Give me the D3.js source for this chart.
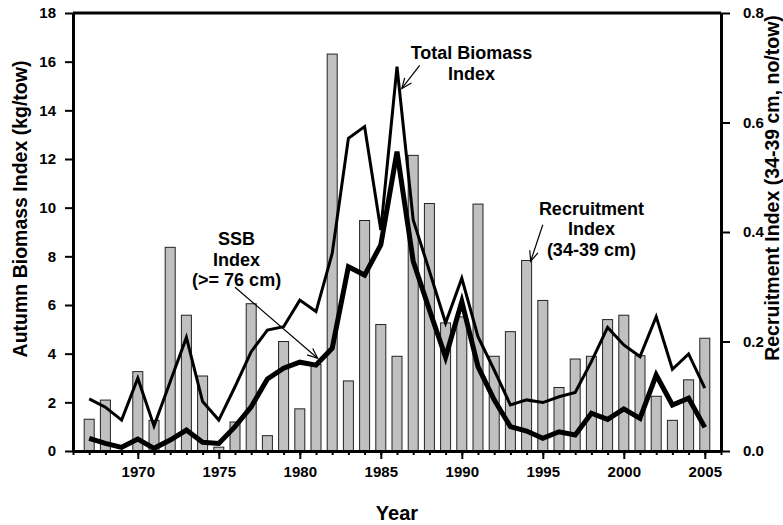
<!DOCTYPE html>
<html>
<head>
<meta charset="utf-8">
<script src="https://cdn.jsdelivr.net/npm/d3@7"></script>
<style>
  body { margin: 0; background: #fff; }
  text { font-family: "Liberation Sans", Arial, sans-serif; font-weight: bold; fill: #000; }
</style>
</head>
<body>
<div id="chart"></div>
<script>
// Autumn survey indices, 1967-2005

const years = d3.range(1967, 2006);

// Recruitment index (34-39 cm, no/tow) - bars, right axis (null = no bar)
const recruitment = [0.058, 0.093, null, 0.145, 0.056, 0.372, 0.248, 0.137, 0.007, 0.053,
                     0.269, 0.028, 0.200, 0.077, 0.158, 0.725, 0.128, 0.421, 0.231, 0.173,
                     0.540, 0.452, 0.234, 0.245, 0.451, 0.173, 0.218, 0.348, 0.275, 0.116,
                     0.168, 0.173, 0.240, 0.248, 0.174, 0.100, 0.056, 0.130, 0.206];

// Total biomass index (kg/tow) - thin line, left axis
const totalBiomass = [2.14, 1.80, 1.27, 2.99, 1.03, 2.85, 4.67, 2.03, 1.27, 2.64,
                      4.08, 4.97, 5.11, 6.20, 5.73, 8.12, 12.85, 13.33, 9.08, 15.80,
                      9.50, 7.40, 5.26, 7.10, 4.70, 3.33, 1.89, 2.10, 1.99, 2.23,
                      2.41, 3.67, 5.08, 4.36, 3.88, 5.52, 3.36, 3.99, 2.58];

// SSB index (>= 76 cm, kg/tow) - thick line, left axis
const ssb = [0.52, 0.31, 0.15, 0.49, 0.11, 0.45, 0.86, 0.36, 0.31, 1.00,
             1.82, 2.96, 3.40, 3.65, 3.53, 4.22, 7.57, 7.23, 8.47, 12.30,
             7.80, 5.80, 3.85, 6.14, 3.47, 2.10, 1.00, 0.82, 0.52, 0.79,
             0.66, 1.55, 1.30, 1.73, 1.34, 3.12, 1.89, 2.17, 0.97];

const leftTicks = d3.range(0, 19, 2);
const rightTicks = [0, 0.2, 0.4, 0.6, 0.8];
const majorYears = [1970, 1975, 1980, 1985, 1990, 1995, 2000, 2005];

// Annotations in data units (year, left-axis value)
const annotations = [
    { lines: ["Total Biomass", "Index"], tx: 1990.6, ty: 16.1, from: [1987.4, 15.85], to: [1986.3, 14.9] },
    { lines: ["SSB", "Index", "(>= 76 cm)"], tx: 1976.1, ty: 8.45, from: [1976.0, 6.73], to: [1981.1, 3.81] },
    { lines: ["Recruitment", "Index", "(34-39 cm)"], tx: 1998.0, ty: 9.7, from: [1995.0, 9.3], to: [1994.25, 7.8] }
];

const width = 783, height = 525;
const margin = { top: 13, right: 62, bottom: 74, left: 73 };
const w = width - margin.left - margin.right;
const h = height - margin.top - margin.bottom;

const svg = d3.select("#chart")
              .append("svg")
              .attr("width", width)
              .attr("height", height)
              .append("g")
              .attr("transform", "translate(" + margin.left + "," + margin.top + ")");

const xScale = d3.scaleLinear().domain([1966, 2006]).range([0, w]);
const yLeft = d3.scaleLinear().domain([0, 18]).range([h, 0]);
const yRight = d3.scaleLinear().domain([0, 0.8]).range([h, 0]);

// Bars (recruitment)
const barW = 10;
svg.append("g")
   .selectAll("rect")
   .data(years.map((y, i) => ({ year: y, v: recruitment[i] })).filter(d => d.v !== null))
   .enter()
   .append("rect")
   .attr("x", d => xScale(d.year) - barW / 2)
   .attr("y", d => yRight(d.v))
   .attr("width", barW)
   .attr("height", d => h - yRight(d.v))
   .attr("fill", "#c0c0c0")
   .attr("stroke", "#222")
   .attr("stroke-width", 1);

// Lines
const line = d3.line()
               .x(d => xScale(d[0]))
               .y(d => yLeft(d[1]));

svg.append("path")
   .datum(years.map((y, i) => [y, totalBiomass[i]]))
   .attr("d", line)
   .attr("fill", "none")
   .attr("stroke", "#000")
   .attr("stroke-width", 3);

svg.append("path")
   .datum(years.map((y, i) => [y, ssb[i]]))
   .attr("d", line)
   .attr("fill", "none")
   .attr("stroke", "#000")
   .attr("stroke-width", 5);

// Axes
function styleAxis(g) {
    g.select(".domain").attr("stroke-width", 3);
    g.selectAll(".tick line").attr("stroke-width", 2);
    g.selectAll("text").attr("font-size", 15).attr("font-family", null);
}

svg.append("g")
   .call(d3.axisLeft(yLeft).tickValues(leftTicks).tickSize(8).tickSizeOuter(0).tickPadding(9)
           .tickFormat(d3.format("d")))
   .call(styleAxis);

svg.append("g")
   .attr("transform", "translate(" + w + ",0)")
   .call(d3.axisRight(yRight).tickValues(rightTicks).tickSize(9).tickSizeOuter(0).tickPadding(13)
           .tickFormat(d3.format(".1f")))
   .call(styleAxis);

// minor year ticks
svg.append("g")
   .attr("transform", "translate(0," + h + ")")
   .call(d3.axisBottom(xScale).tickValues(d3.range(1966, 2007)).tickSize(4).tickSizeOuter(0).tickFormat(""))
   .call(styleAxis);

svg.append("g")
   .attr("transform", "translate(0," + h + ")")
   .call(d3.axisBottom(xScale).tickValues(majorYears).tickSize(8).tickSizeOuter(0).tickPadding(7)
           .tickFormat(d3.format("d")))
   .call(styleAxis);

// top border
svg.append("line")
   .attr("x1", 0).attr("x2", w)
   .attr("y1", 0).attr("y2", 0)
   .attr("stroke", "#000")
   .attr("stroke-width", 3);

// Axis titles
svg.append("text")
   .attr("x", w / 2)
   .attr("y", h + 69)
   .attr("text-anchor", "middle")
   .attr("font-size", 20)
   .text("Year");

svg.append("text")
   .attr("transform", "translate(" + (-46) + "," + 196 + ") rotate(-90)")
   .attr("text-anchor", "middle")
   .attr("font-size", 19.5)
   .text("Autumn Biomass Index (kg/tow)");

svg.append("text")
   .attr("transform", "translate(" + (w + 58) + "," + 175 + ") rotate(-90)")
   .attr("text-anchor", "middle")
   .attr("font-size", 19.5)
   .text("Recruitment Index (34-39 cm, no/tow)");

// Annotations with open arrowheads
annotations.forEach(a => {
    const t = svg.append("text")
                 .attr("text-anchor", "middle")
                 .attr("font-size", 18);
    a.lines.forEach((s, i) => {
        t.append("tspan")
         .attr("x", xScale(a.tx))
         .attr("y", yLeft(a.ty) + i * 20.5)
         .text(s);
    });

    const x1 = xScale(a.from[0]), y1 = yLeft(a.from[1]);
    const x2 = xScale(a.to[0]), y2 = yLeft(a.to[1]);
    svg.append("line")
       .attr("x1", x1).attr("y1", y1)
       .attr("x2", x2).attr("y2", y2)
       .attr("stroke", "#000")
       .attr("stroke-width", 1.2);

    const ang = Math.atan2(y2 - y1, x2 - x1);
    const len = 11, spread = 0.4;
    const head = [
        [x2 - len * Math.cos(ang - spread), y2 - len * Math.sin(ang - spread)],
        [x2, y2],
        [x2 - len * Math.cos(ang + spread), y2 - len * Math.sin(ang + spread)]
    ];
    svg.append("path")
       .attr("d", d3.line()(head))
       .attr("fill", "none")
       .attr("stroke", "#000")
       .attr("stroke-width", 1.2);
});
</script>
</body>
</html>
